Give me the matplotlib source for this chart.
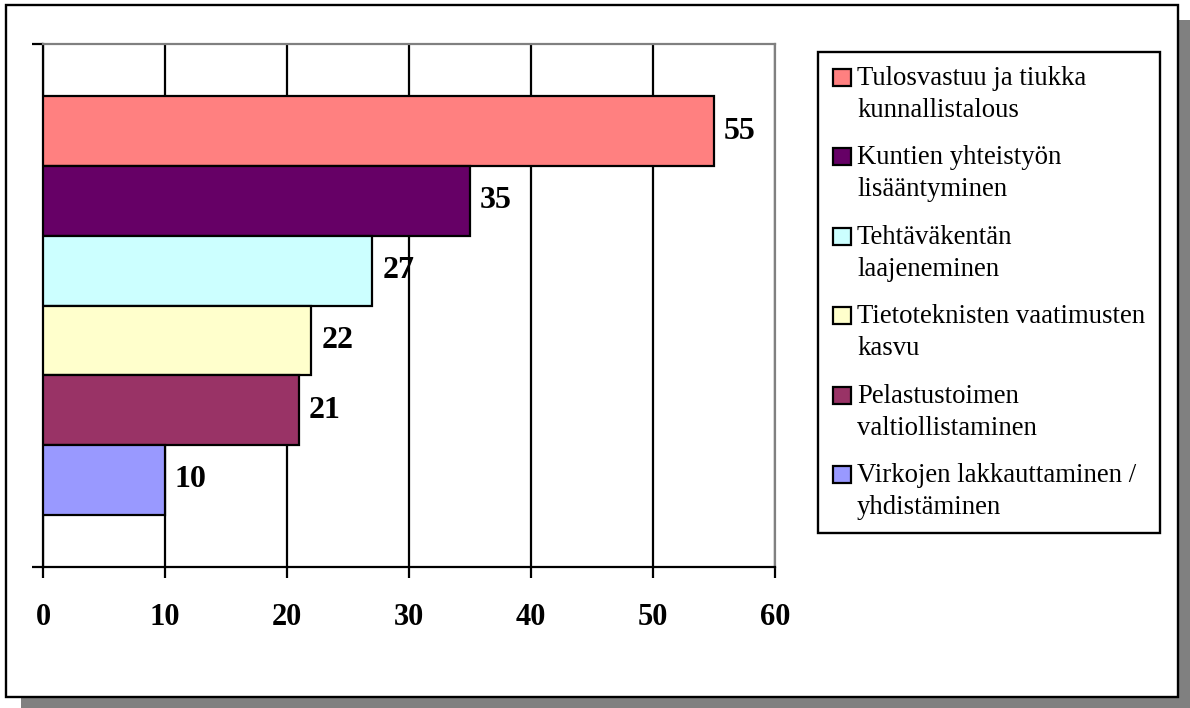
import matplotlib.pyplot as plt
from matplotlib.patches import Rectangle

categories = [
    "Tulosvastuu ja tiukka\nkunnallistalous",
    "Kuntien yhteistyön\nlisääntyminen",
    "Tehtäväkentän\nlaajeneminen",
    "Tietoteknisten vaatimusten\nkasvu",
    "Pelastustoimen\nvaltiollistaminen",
    "Virkojen lakkauttaminen /\nyhdistäminen",
]
values = [55, 35, 27, 22, 21, 10]
colors = ["#FF8080", "#660066", "#CCFFFF", "#FFFFCC", "#993366", "#9999FF"]
xticks = [0, 10, 20, 30, 40, 50, 60]

W, H = 1190, 708
plt.rcParams['font.family'] = ['Liberation Serif', 'DejaVu Serif']

fig = plt.figure(figsize=(W / 100, H / 100), dpi=100)


def fx(px):
    return px / W


def fy(py):
    return 1 - py / H


# shadow + outer frame
fig.patches.append(Rectangle((fx(21), fy(708)), fx(1190) - fx(21), fy(20) - fy(708),
                             transform=fig.transFigure, facecolor="#808080",
                             edgecolor="none", zorder=0))
fig.patches.append(Rectangle((fx(6), fy(697)), fx(1178) - fx(6), fy(5) - fy(697),
                             transform=fig.transFigure, facecolor="white",
                             edgecolor="black", linewidth=1.7, zorder=1))

ax = fig.add_axes([fx(43), fy(567), fx(775) - fx(43), fy(44) - fy(567)])
ax.set_zorder(2)
ax.patch.set_alpha(0)

n = len(values)
ypos = list(range(n))
ax.barh(ypos, values, height=1.0, color=colors, edgecolor="black",
        linewidth=1.6, zorder=3)
for y, v in zip(ypos, values):
    ax.text(v + 0.8, y, str(v), ha="left", va="center", fontsize=23,
            fontweight="bold", zorder=4)

ax.set_xlim(0, 60)
ax.set_ylim(n - 0.5 + 0.75, -0.5 - 0.75)
ax.set_xticks(xticks)
ax.set_xticklabels([str(t) for t in xticks], fontsize=22, fontweight="bold")
ax.set_yticks([n - 0.5 + 0.75, -0.5 - 0.75])
ax.set_yticklabels([])
ax.tick_params(axis="both", direction="out", length=8, width=1.6, color="black")
ax.tick_params(axis="x", pad=18)
ax.xaxis.grid(True, color="black", linewidth=1.6, zorder=1)
ax.set_axisbelow(True)
for s in ["left", "bottom"]:
    ax.spines[s].set_color("black")
    ax.spines[s].set_linewidth(1.6)
for s in ["top", "right"]:
    ax.spines[s].set_color("#808080")
    ax.spines[s].set_linewidth(1.6)

# legend box
fig.patches.append(Rectangle((fx(818), fy(533)), fx(1160) - fx(818), fy(52) - fy(533),
                             transform=fig.transFigure, facecolor="white",
                             edgecolor="black", linewidth=1.7, zorder=2))
for i, (lab, c) in enumerate(zip(categories, colors)):
    base = 85 + 79.4 * i
    fig.patches.append(Rectangle((fx(833), fy(base + 1)), fx(851) - fx(833), fy(base - 16) - fy(base + 1),
                                 transform=fig.transFigure, facecolor=c,
                                 edgecolor="black", linewidth=1.6, zorder=3))
    for j, line in enumerate(lab.split("\n")):
        fig.text(fx(857), fy(base + 32 * j), line, ha="left", va="baseline",
                 fontsize=19.3, zorder=4)

fig.savefig("out.png", dpi=100)
